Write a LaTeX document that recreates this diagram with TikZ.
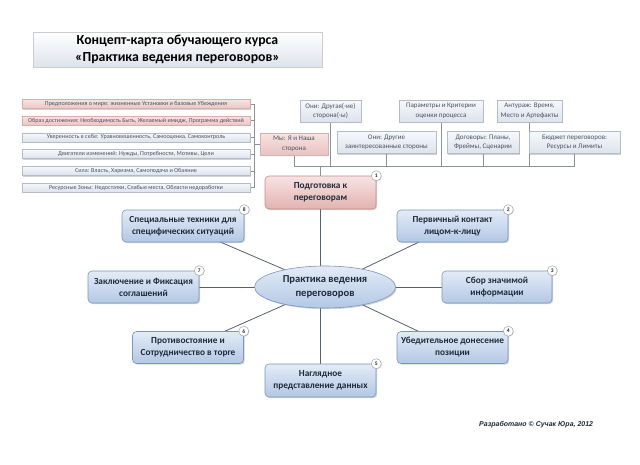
\documentclass[tikz,border=0pt]{standalone}
\usepackage{fontspec}
\setmainfont{Carlito}
\newfontfamily\footfont{Liberation Sans}
\usetikzlibrary{shapes.geometric,shadows}
\pgfdeclarelayer{bg}
\pgfdeclarelayer{background}
\pgfsetlayers{bg,background,main}
\definecolor{bluetop}{HTML}{E3EBF7}
\definecolor{bluebot}{HTML}{B3C8E4}
\definecolor{bluedraw}{HTML}{7B96BE}
\definecolor{pinktop}{HTML}{F7E3E2}
\definecolor{pinkbot}{HTML}{E3B3B1}
\definecolor{pinkdraw}{HTML}{C58B89}
\definecolor{greytop}{HTML}{F6F8FB}
\definecolor{greybot}{HTML}{DDE3EC}
\definecolor{greydraw}{HTML}{B4BCC8}
\definecolor{txt}{HTML}{1E2A3A}
\definecolor{smalltxt}{HTML}{4A5262}
\definecolor{linec}{HTML}{56616F}
\definecolor{treec}{HTML}{8A929C}
\tikzset{
  x=1pt, y=-1pt,
  shd/.style={drop shadow={shadow xshift=1.2pt, shadow yshift=-1.2pt, opacity=0.35, fill=gray}},
  mainbox/.style={rectangle, rounded corners=4pt, draw=bluedraw, line width=0.6pt,
    top color=bluetop, bottom color=bluebot, minimum width=111pt, minimum height=32pt,
    align=center, inner sep=2pt, text=txt, font=\bfseries\fontsize{9.3}{12}\selectfont, shd},
  pinkbox/.style={mainbox, draw=pinkdraw, top color=pinktop, bottom color=pinkbot},
  badge/.style={circle, draw=gray!70, fill=white, line width=0.5pt, inner sep=0pt,
    minimum size=10pt, font=\bfseries\fontsize{5.5}{6}\selectfont, text=txt,
    drop shadow={shadow xshift=0.6pt, shadow yshift=-0.6pt, opacity=0.3, fill=gray}},
  smallbox/.style={rectangle, draw=greydraw, line width=0.4pt, top color=greytop, bottom color=greybot,
    minimum height=22pt, align=center, inner sep=1pt, text=smalltxt,
    font=\fontsize{7}{9.5}\selectfont, shd},
  smallpink/.style={smallbox, draw=pinkdraw!70, top color=pinktop, bottom color=pinkbot!80},
  listbox/.style={rectangle, draw=greydraw, line width=0.4pt, top color=greytop, bottom color=greybot,
    minimum width=228pt, minimum height=9pt, inner sep=0pt, text=smalltxt,
    font=\fontsize{6.1}{6.5}\selectfont, shd},
  listpink/.style={listbox, draw=pinkdraw!70, top color=pinktop, bottom color=pinkbot!75},
  conn/.style={draw=linec, line width=0.8pt},
  tree/.style={draw=treec, line width=0.5pt},
}
\begin{document}
\begin{tikzpicture}
\begin{pgfonlayer}{bg}
\fill[white] (0,0) rectangle (640,464);
\end{pgfonlayer}
\useasboundingbox (0,0) rectangle (640,464);

% title
\node[rectangle, draw=gray!40, line width=0.4pt, top color=white, bottom color=greybot,
  minimum width=289pt, minimum height=35pt, inner sep=0pt, align=center, shd,
  font=\bfseries\fontsize{13.8}{17}\selectfont, text=black] (title) at (177.5,49.5)
  {Концепт-карта обучающего курса\\«Практика ведения переговоров»};

% left list
\node[listpink] (l1) at (136,104) {Предположения о мире: жизненные Установки и базовые Убеждения};
\node[listpink] (l2) at (136,120.7) {Образ достижения: Необходимость Быть, Желаемый имидж, Программа действий};
\node[listbox] (l3) at (136,137.4) {Уверенность в себе: Уравновешенность, Самооценка, Самоконтроль};
\node[listbox] (l4) at (136,154.1) {Двигатели изменений: Нужды, Потребности, Мотивы, Цели};
\node[listbox] (l5) at (136,170.8) {Сила: Власть, Харизма, Самоподача и Обаяние};
\node[listbox] (l6) at (136,187.5) {Ресурсные Зоны: Недостатки, Слабые места, Области недоработки};
\coordinate (lbus) at (254,0);

% top small boxes
\node[smallpink, minimum width=68pt] (mi) at (294,144) {Мы: Я и Наша\\сторона};
\node[smallbox, minimum width=61pt] (o1) at (330.5,111) {Они: Другая(-ие)\\сторона(-ы)};
\node[smallbox, minimum width=99pt] (o2) at (386.5,142.5) {Они: Другие\\заинтересованные стороны};
\node[smallbox, minimum width=84pt] (par) at (441,111) {Параметры и Критерии\\оценки процесса};
\node[smallbox, minimum width=72pt] (dog) at (483,142.5) {Договоры: Планы,\\Фреймы, Сценарии};
\node[smallbox, minimum width=65pt] (ant) at (529.5,111) {Антураж: Время,\\Место и Артефакты};
\node[smallbox, minimum width=91pt] (bud) at (574.5,142.5) {Бюджет переговоров:\\Ресурсы и Лимиты};
\coordinate (bus) at (0,166);

% main map
\node[pinkbox, minimum height=33pt] (prep) at (320.5,192.5) {Подготовка к\\переговорам};
\node[ellipse, draw=bluedraw, line width=0.6pt, top color=bluetop, bottom color=bluebot,
  minimum width=141pt, minimum height=42pt, inner sep=0pt, align=center, text=txt,
  font=\bfseries\fontsize{10.6}{14.5}\selectfont, shd] (core) at (325,287)
  {Практика ведения\\переговоров};
\node[mainbox] (n2) at (452.5,226) {Первичный контакт\\лицом-к-лицу};
\node[mainbox, minimum width=110pt] (n3) at (497,287) {Сбор значимой\\информации};
\node[mainbox] (n4) at (452.5,347.5) {Убедительное донесение\\позиции};
\node[mainbox, minimum height=33pt] (n5) at (320.5,380.5) {Наглядное\\представление данных};
\node[mainbox] (n6) at (188,347.5) {Противостояние и\\Сотрудничество в торге};
\node[mainbox] (n7) at (143.5,287) {Заключение и Фиксация\\соглашений};
\node[mainbox, minimum width=122pt] (n8) at (183,226) {Специальные техники для\\специфических ситуаций};

% badges
\node[badge] (b1) at (prep.north east) {1};
\node[badge] (b2) at (n2.north east) {2};
\node[badge] (b3) at (n3.north east) {3};
\node[badge] (b4) at (n4.north east) {4};
\node[badge] (b5) at (n5.north east) {5};
\node[badge] (b6) at (n6.north east) {6};
\node[badge] (b7) at (n7.north east) {7};
\node[badge] (b8) at (n8.north east) {8};

% footer
\node[font=\footfont\bfseries\itshape\fontsize{7}{8}\selectfont, text=txt, anchor=west, inner sep=0pt]
  (foot) at (479,425) {Разработано © Сучак Юра, 2012};

\begin{pgfonlayer}{background}
  % left list connectors
  \foreach \n in {l1,l2,l3,l4,l5,l6}{
    \draw[tree] (\n.east) -- (\n.east -| lbus);
  }
  \draw[tree] (l1.east -| lbus) -- (l6.east -| lbus);
  \draw[tree] (mi.west) -- (mi.west -| lbus);
  % tree bus
  \draw[tree] (mi.center) -- (mi.center |- bus) -- (bud.center |- bus) -- (bud.center);
  \foreach \n in {o1,o2,par,dog,ant}{
    \draw[tree] (\n.center) -- (\n.center |- bus);
  }
  \draw[tree] (prep.north) -- (prep.north |- bus);
  % main connectors
  \draw[conn] (prep.south) -- (prep.south |- core.center);
  \draw[conn] (n5.north) -- (n5.north |- core.center);
  \draw[conn] (core.center) -- (n2.center);
  \draw[conn] (core.center) -- (n3.center);
  \draw[conn] (core.center) -- (n4.center);
  \draw[conn] (core.center) -- (n6.center);
  \draw[conn] (core.center) -- (n7.center);
  \draw[conn] (core.center) -- (n8.center);
\end{pgfonlayer}
\end{tikzpicture}
\end{document}
